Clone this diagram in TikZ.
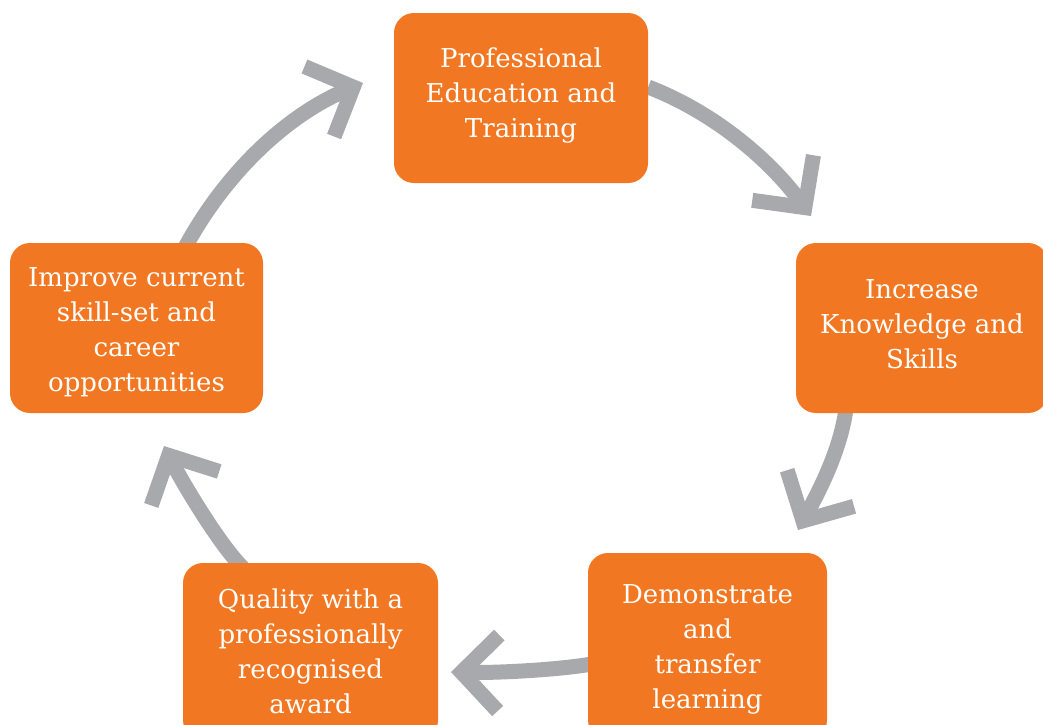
\documentclass[tikz,border=0pt]{standalone}
\usepackage{fontspec}
\setmainfont{DejaVu Serif}
\usetikzlibrary{arrows.meta,backgrounds}
\definecolor{boxorange}{RGB}{242,119,34}
\definecolor{arrowgray}{RGB}{167,169,172}
\tikzset{
  stagebox/.style={fill=boxorange, rounded corners=20pt, inner sep=0pt},
  stagetext/.style={text=white, align=center, inner sep=0pt,
    font=\fontsize{26}{35}\selectfont},
  cyclearrow/.style={draw=arrowgray, line width=15pt,
    -{Straight Barb[length=37pt,width=76pt]}}
}
\begin{document}
\begin{tikzpicture}[x=1pt,y=-1pt]
\useasboundingbox (0,0) rectangle (1043,724);
\clip (0,0) rectangle (1043,724);

\node[stagebox, minimum width=254pt, minimum height=170pt] (top) at (521,98) {};
\node[stagetext] (top-text) at ([yshift=2pt]top.center)
  {Professional\\Education and\\Training};
\node[stagebox, minimum width=252pt, minimum height=170pt] (rgt) at (922,328) {};
\node[stagetext] (rgt-text) at ([yshift=4pt]rgt.center)
  {Increase\\Knowledge and\\Skills};
\node[stagebox, minimum width=239pt, minimum height=187pt] (br) at (707.5,646.5) {};
\node[stagetext] (br-text) at ([yshift=-3pt]br.center)
  {Demonstrate\\and\\transfer\\learning};
\node[stagebox, minimum width=255pt, minimum height=177pt] (bl) at (310.5,651.5) {};
\node[stagetext] (bl-text) at (bl.center)
  {Quality with a\\professionally\\recognised\\award};
\node[stagebox, minimum width=253pt, minimum height=170pt] (lft) at (136.5,328) {};
\node[stagetext] (lft-text) at ([yshift=-4pt]lft.center)
  {Improve current\\skill-set and\\career\\opportunities};

\coordinate (t1) at (811,216);
\coordinate (t2) at (798,530);
\coordinate (t3) at (451,672);
\coordinate (t4) at (164,446);
\coordinate (t5) at (363,83);

\begin{scope}[on background layer]
\fill[white] (0,0) rectangle (1043,724);
\draw[cyclearrow] ([yshift=11pt]top.east) .. controls +(65,25) and +(-42,-57) .. (t1);
\draw[cyclearrow] ([shift={(50pt,3pt)}]rgt.south west) .. controls +(-6,42) and +(20,-37) .. (t2);
\draw[cyclearrow] ([shift={(4pt,-17.5pt)}]br.west) .. controls +(-35,6) and +(45,1) .. (t3);
\draw[cyclearrow] ([shift={(60pt,-5pt)}]bl.north west) .. controls +(-25,-25) and +(16,32) .. (t4);
\draw[cyclearrow] ([shift={(174pt,-7pt)}]lft.north west) .. controls +(40,-75) and +(-78,33) .. (t5);
\end{scope}
\end{tikzpicture}
\end{document}
